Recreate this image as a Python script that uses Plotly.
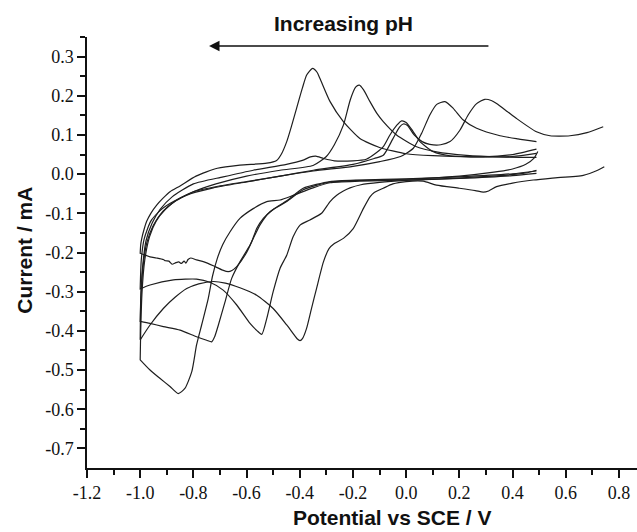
import plotly.graph_objects as go

# ---------------- data (potential / V vs SCE, current / mA) ----------------
# each CV = reduction (lower) branch scanned right->left, then oxidation (upper) branch left->right
cv1_lower_E = [0.745, 0.72, 0.666, 0.55, 0.478, 0.40, 0.34, 0.31, 0.29, 0.26, 0.20, 0.114, 0.064, 0.0, -0.05, -0.086, -0.12, -0.136, -0.161, -0.199, -0.236, -0.27, -0.29, -0.311, -0.337, -0.356, -0.375, -0.39, -0.399, -0.41, -0.449, -0.50, -0.562, -0.625, -0.68, -0.725, -0.78, -0.825, -0.87, -0.913, -0.963, -1.0]
cv1_lower_I = [0.019, 0.01, -0.003, -0.01, -0.015, -0.023, -0.032, -0.043, -0.046, -0.042, -0.036, -0.028, -0.018, -0.019, -0.025, -0.036, -0.047, -0.058, -0.088, -0.139, -0.164, -0.177, -0.19, -0.224, -0.292, -0.343, -0.395, -0.42, -0.425, -0.42, -0.385, -0.343, -0.309, -0.29, -0.278, -0.274, -0.28, -0.292, -0.315, -0.343, -0.385, -0.423]
cv1_upper_E = [-1.0, -0.998, -0.99, -0.975, -0.95, -0.915, -0.87, -0.80, -0.70, -0.60, -0.474, -0.349, -0.20, -0.12, -0.086, -0.05, -0.025, -0.011, 0.005, 0.03, 0.06, 0.089, 0.13, 0.165, 0.202, 0.233, 0.265, 0.296, 0.32, 0.34, 0.38, 0.415, 0.49, 0.541, 0.616, 0.68, 0.741]
cv1_upper_I = [-0.423, -0.33, -0.24, -0.175, -0.13, -0.095, -0.07, -0.045, -0.03, -0.019, -0.005, 0.01, 0.025, 0.04, 0.048, 0.09, 0.12, 0.128, 0.124, 0.10, 0.083, 0.076, 0.075, 0.083, 0.112, 0.151, 0.18, 0.191, 0.188, 0.18, 0.16, 0.142, 0.108, 0.098, 0.098, 0.106, 0.121]

cv2_lower_E = [0.49, 0.45, 0.35, 0.20, 0.10, 0.0, -0.10, -0.17, -0.211, -0.236, -0.261, -0.286, -0.318, -0.362, -0.399, -0.425, -0.449, -0.474, -0.50, -0.524, -0.543, -0.56, -0.587, -0.637, -0.688, -0.738, -0.788, -0.875, -0.963, -1.0]
cv2_lower_I = [0.01, 0.003, -0.004, -0.01, -0.013, -0.016, -0.021, -0.027, -0.035, -0.043, -0.054, -0.07, -0.10, -0.117, -0.13, -0.16, -0.207, -0.24, -0.30, -0.368, -0.409, -0.40, -0.381, -0.334, -0.296, -0.276, -0.268, -0.27, -0.283, -0.293]
cv2_upper_E = [-1.0, -0.996, -0.985, -0.96, -0.92, -0.87, -0.81, -0.725, -0.60, -0.474, -0.349, -0.20, -0.099, -0.021, 0.027, 0.058, 0.089, 0.115, 0.146, 0.177, 0.215, 0.265, 0.353, 0.42, 0.49]
cv2_upper_I = [-0.293, -0.22, -0.165, -0.12, -0.09, -0.068, -0.05, -0.035, -0.02, -0.005, 0.008, 0.02, 0.032, 0.045, 0.066, 0.104, 0.151, 0.178, 0.185, 0.168, 0.138, 0.117, 0.098, 0.09, 0.083]

cv3_lower_E = [0.495, 0.48, 0.45, 0.40, 0.33, 0.20, 0.0, -0.174, -0.286, -0.387, -0.449, -0.512, -0.55, -0.587, -0.625, -0.656, -0.681, -0.706, -0.72, -0.731, -0.75, -0.788, -0.85, -0.913, -0.963, -1.0]
cv3_lower_I = [0.058, 0.04, 0.025, 0.013, 0.005, -0.005, -0.013, -0.016, -0.02, -0.04, -0.07, -0.096, -0.13, -0.181, -0.224, -0.266, -0.326, -0.385, -0.415, -0.428, -0.424, -0.415, -0.398, -0.389, -0.381, -0.376]
cv3_upper_E = [-1.0, -0.997, -0.99, -0.978, -0.955, -0.925, -0.88, -0.80, -0.688, -0.575, -0.45, -0.39, -0.36, -0.34, -0.31, -0.27, -0.20, -0.15, -0.111, -0.086, -0.061, -0.035, -0.017, 0.0, 0.025, 0.052, 0.102, 0.165, 0.29, 0.40, 0.49]
cv3_upper_I = [-0.376, -0.30, -0.23, -0.17, -0.125, -0.09, -0.058, -0.025, -0.007, 0.01, 0.025, 0.035, 0.044, 0.046, 0.04, 0.034, 0.034, 0.038, 0.055, 0.07, 0.10, 0.125, 0.136, 0.132, 0.11, 0.083, 0.057, 0.047, 0.044, 0.05, 0.064]

cv4_lower_E = [0.49, 0.40, 0.20, 0.0, -0.174, -0.286, -0.35, -0.424, -0.474, -0.524, -0.575, -0.625, -0.662, -0.69, -0.71, -0.728, -0.744, -0.769, -0.788, -0.806, -0.832, -0.857, -0.888, -0.926, -0.963, -1.0]
cv4_lower_I = [0.002, -0.004, -0.011, -0.015, -0.018, -0.022, -0.035, -0.054, -0.066, -0.07, -0.088, -0.113, -0.147, -0.18, -0.215, -0.26, -0.317, -0.385, -0.436, -0.504, -0.547, -0.56, -0.542, -0.521, -0.50, -0.474]
cv4_upper_E = [-1.0, -0.998, -0.993, -0.983, -0.965, -0.94, -0.905, -0.86, -0.80, -0.715, -0.60, -0.474, -0.35, -0.30, -0.27, -0.236, -0.21, -0.19, -0.176, -0.16, -0.136, -0.11, -0.086, -0.036, 0.039, 0.114, 0.227, 0.353, 0.49]
cv4_upper_I = [-0.474, -0.40, -0.30, -0.22, -0.16, -0.12, -0.09, -0.065, -0.045, -0.025, -0.005, 0.01, 0.022, 0.045, 0.075, 0.125, 0.19, 0.222, 0.227, 0.215, 0.185, 0.155, 0.134, 0.10, 0.07, 0.057, 0.048, 0.044, 0.043]

cv5_lower_E = [0.49, 0.40, 0.20, 0.0, -0.174, -0.286, -0.387, -0.449, -0.50, -0.537, -0.562, -0.581, -0.606, -0.637, -0.655, -0.669, -0.69, -0.725, -0.76, -0.788, -0.81, -0.82, -0.828, -0.835, -0.845, -0.855, -0.866, -0.88, -0.892, -0.905, -0.913, -0.94, -0.963, -1.0]
cv5_lower_I = [0.008, 0.001, -0.007, -0.012, -0.015, -0.019, -0.036, -0.068, -0.09, -0.113, -0.139, -0.173, -0.207, -0.236, -0.246, -0.249, -0.245, -0.234, -0.224, -0.219, -0.214, -0.218, -0.227, -0.222, -0.228, -0.224, -0.226, -0.23, -0.222, -0.221, -0.218, -0.214, -0.211, -0.202]
cv5_upper_E = [-1.0, -0.998, -0.994, -0.985, -0.976, -0.96, -0.938, -0.915, -0.888, -0.85, -0.79, -0.71, -0.625, -0.524, -0.487, -0.47, -0.449, -0.43, -0.412, -0.39, -0.374, -0.352, -0.335, -0.324, -0.286, -0.236, -0.174, -0.10, 0.0, 0.10, 0.25, 0.40, 0.49]
cv5_upper_I = [-0.202, -0.18, -0.164, -0.14, -0.121, -0.10, -0.079, -0.062, -0.045, -0.03, -0.005, 0.015, 0.023, 0.028, 0.035, 0.05, 0.083, 0.125, 0.168, 0.22, 0.253, 0.27, 0.26, 0.244, 0.185, 0.134, 0.091, 0.068, 0.052, 0.047, 0.044, 0.045, 0.053]

x_tick_vals = [-1.2, -1.0, -0.8, -0.6, -0.4, -0.2, 0.0, 0.2, 0.4, 0.6, 0.8]
x_tick_text = ["-1.2", "-1.0", "-0.8", "-0.6", "-0.4", "-0.2", "0.0", "0.2", "0.4", "0.6", "0.8"]
x_minor_vals = [-1.1, -0.9, -0.7, -0.5, -0.3, -0.1, 0.1, 0.3, 0.5, 0.7]
y_tick_vals = [0.3, 0.2, 0.1, 0.0, -0.1, -0.2, -0.3, -0.4, -0.5, -0.6, -0.7]
y_tick_text = ["0.3", "0.2", "0.1", "0.0", "-0.1", "-0.2", "-0.3", "-0.4", "-0.5", "-0.6", "-0.7"]
y_minor_vals = [0.35, 0.25, 0.15, 0.05, -0.05, -0.15, -0.25, -0.35, -0.45, -0.55, -0.65]

x_title = "Potential vs SCE / V"
y_title = "Current / mA"
top_label = "Increasing pH"
arrow_from_E, arrow_to_E, arrow_I = 0.315, -0.741, 0.327

# ---------------- figure ----------------
curves = [
    (cv1_lower_E + cv1_upper_E, cv1_lower_I + cv1_upper_I),
    (cv2_lower_E + cv2_upper_E, cv2_lower_I + cv2_upper_I),
    (cv3_lower_E + cv3_upper_E, cv3_lower_I + cv3_upper_I),
    (cv4_lower_E + cv4_upper_E, cv4_lower_I + cv4_upper_I),
    (cv5_lower_E + cv5_upper_E, cv5_lower_I + cv5_upper_I),
]

fig = go.Figure()
for E, I in curves:
    fig.add_trace(go.Scatter(x=E, y=I, mode="lines",
                             line=dict(color="#1e1e1e", width=1.2, shape="spline", smoothing=0.6),
                             showlegend=False, hoverinfo="skip"))

serif = "Liberation Serif"
fig.update_xaxes(range=[-1.2, 0.868], showline=True, linewidth=1.5, linecolor="#111",
                 showgrid=False, zeroline=False, ticks="outside", ticklen=8, tickwidth=1.5,
                 tickcolor="#111", tickmode="array", tickvals=x_tick_vals,
                 ticktext=x_tick_text, showticklabels=True,
                 tickfont_family=serif, tickfont_size=18, tickfont_color="#111",
                 minor=dict(tickvals=x_minor_vals, ticks="outside", ticklen=5, tickwidth=1.5,
                            tickcolor="#111", showgrid=False))
fig.update_yaxes(range=[-0.75, 0.35], showline=True, linewidth=1.5, linecolor="#111",
                 showgrid=False, zeroline=False, ticks="outside", ticklen=8, tickwidth=1.5,
                 tickcolor="#111", tickmode="array", tickvals=y_tick_vals,
                 ticktext=y_tick_text, showticklabels=True,
                 tickfont_family=serif, tickfont_size=18, tickfont_color="#111",
                 minor=dict(tickvals=y_minor_vals, ticks="outside", ticklen=5, tickwidth=1.5,
                            tickcolor="#111", showgrid=False))

boldfont = dict(family="Liberation Sans", size=21, color="#111")
fig.add_annotation(text="<b>" + x_title + "</b>", xref="paper", yref="paper",
                   x=0.5545, y=-0.114, xanchor="center", yanchor="middle",
                   showarrow=False, font=boldfont)
fig.add_annotation(text="<b>" + y_title + "</b>", xref="paper", yref="paper",
                   x=-0.113, y=0.506, xanchor="center", yanchor="middle", textangle=-90,
                   showarrow=False, font=boldfont)
fig.add_annotation(text="<b>" + top_label + "</b>", xref="paper", yref="paper",
                   x=0.4655, y=1.031, xanchor="center", yanchor="middle",
                   showarrow=False, font=boldfont)
fig.add_annotation(x=arrow_to_E, y=arrow_I, ax=arrow_from_E, ay=arrow_I,
                   xref="x", yref="y", axref="x", ayref="y", text="",
                   showarrow=True, arrowhead=2, arrowsize=1.3, arrowwidth=1.6,
                   arrowcolor="#111")

fig.update_layout(width=637, height=532, margin=dict(l=87, r=0, t=37, b=64),
                  font=dict(family=serif, size=18, color="#111"),
                  paper_bgcolor="white", plot_bgcolor="white")
fig.write_html("out.html")
